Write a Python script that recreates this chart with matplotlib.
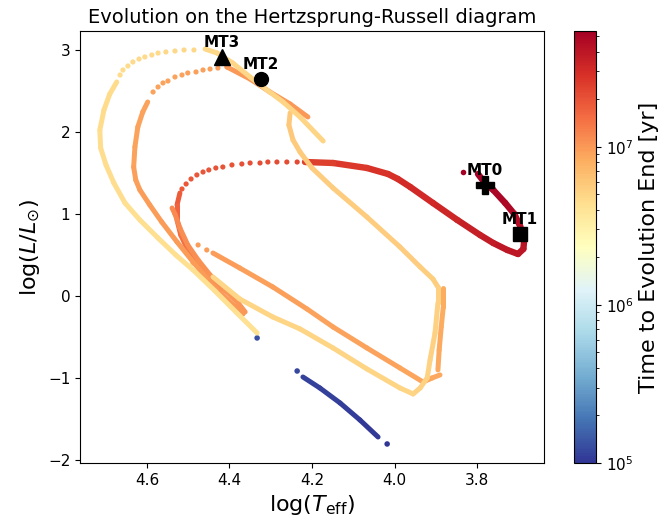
import numpy as np
import matplotlib
matplotlib.use('Agg')
import matplotlib.pyplot as plt
from matplotlib.collections import LineCollection
from matplotlib.colors import LogNorm
from matplotlib.cm import ScalarMappable

# ---- trilha: log(Teff), log(L/Lsun), tempo ate o fim [anos] ----
# inicio, ponto isolado vermelho escuro
inicio_T = [3.834]
inicio_L = [1.512]
inicio_t = [5.4e7]

# ramo vermelho (loop do MT0/MT1 e a linha longa para a esquerda)
verm_T = [3.798, 3.781, 3.761, 3.732, 3.710, 3.696, 3.686, 3.688, 3.701, 3.727,
          3.761, 3.793, 3.848, 3.907, 3.962, 3.992, 4.016, 4.067, 4.149, 4.217]
verm_L = [1.488, 1.378, 1.293, 1.134, 1.000, 0.854, 0.683, 0.573, 0.512, 0.561,
          0.646, 0.744, 0.927, 1.134, 1.329, 1.427, 1.488, 1.561, 1.622, 1.634]
verm_t = [5.3e7, 5.2e7, 5.0e7, 4.8e7, 4.6e7, 4.4e7, 4.2e7, 4.1e7, 4.0e7, 3.9e7,
          3.7e7, 3.5e7, 3.3e7, 3.1e7, 3.0e7, 2.9e7, 2.8e7, 2.6e7, 2.4e7, 2.3e7]

# arco pontilhado vermelho-laranja
arco_T = [4.236, 4.261, 4.285, 4.307, 4.326, 4.350, 4.370, 4.394, 4.416, 4.433,
          4.450, 4.464, 4.479, 4.493, 4.505, 4.515]
arco_L = [1.634, 1.634, 1.634, 1.634, 1.622, 1.622, 1.610, 1.598, 1.573, 1.561,
          1.537, 1.512, 1.476, 1.427, 1.366, 1.305]
arco_t = [2.2e7, 2.17e7, 2.15e7, 2.12e7, 2.1e7, 2.07e7, 2.05e7, 2.02e7, 2.0e7, 1.98e7,
          1.96e7, 1.94e7, 1.92e7, 1.9e7, 1.88e7, 1.86e7]

# descida vermelho-laranja
desc_T = [4.520, 4.527, 4.527, 4.518, 4.501, 4.479, 4.452, 4.423, 4.392]
desc_L = [1.256, 1.110, 0.927, 0.744, 0.561, 0.402, 0.244, 0.110, 0.012]
desc_t = [1.8e7, 1.7e7, 1.6e7, 1.5e7, 1.42e7, 1.35e7, 1.28e7, 1.2e7, 1.15e7]

# laranja paralelo a descida
lar2_T = [4.539, 4.532, 4.520, 4.501, 4.476, 4.447, 4.411, 4.379, 4.362]
lar2_L = [1.073, 1.000, 0.829, 0.622, 0.439, 0.256, 0.073, -0.085, -0.195]
lar2_t = [1.15e7, 1.15e7, 1.12e7, 1.1e7, 1.08e7, 1.06e7, 1.04e7, 1.02e7, 1.0e7]

# laranja: curva da esquerda
lesq_T = [4.598, 4.610, 4.622, 4.629, 4.632, 4.627, 4.617, 4.593, 4.564, 4.527,
          4.488, 4.447, 4.404, 4.367]
lesq_L = [2.366, 2.244, 2.061, 1.817, 1.573, 1.415, 1.293, 1.110, 0.902, 0.659,
          0.415, 0.171, -0.049, -0.220]
lesq_t = [9.0e6, 9.0e6, 9.1e6, 9.2e6, 9.3e6, 9.4e6, 9.5e6, 9.6e6, 9.7e6, 9.8e6,
          9.9e6, 1.0e7, 1.0e7, 1.0e7]

# laranja: arco pontilhado de cima
lcim_T = [4.585, 4.573, 4.561, 4.549, 4.532, 4.515, 4.501, 4.481, 4.464, 4.447, 4.428, 4.406]
lcim_L = [2.488, 2.549, 2.598, 2.622, 2.671, 2.695, 2.720, 2.732, 2.756, 2.768, 2.780, 2.793]
lcim_t = [9.0e6, 9.0e6, 9.1e6, 9.1e6, 9.2e6, 9.2e6, 9.3e6, 9.3e6, 9.4e6, 9.4e6,
          9.5e6, 9.6e6]

# laranja: linha do MT2
lmt2_T = [4.406, 4.350, 4.302, 4.253, 4.210]
lmt2_L = [2.793, 2.646, 2.488, 2.341, 2.183]
lmt2_t = [1.0e7, 1.0e7, 1.0e7, 1.0e7, 1.0e7]

# laranja: linha para a direita e subida vertical
ldir_T = [4.440, 4.375, 4.295, 4.212, 4.149, 4.067, 3.987, 3.931, 3.909, 3.890]
ldir_L = [0.524, 0.341, 0.110, -0.159, -0.378, -0.634, -0.878, -1.049, -1.000, -0.963]
ldir_t = [9.5e6, 9.4e6, 9.3e6, 9.2e6, 9.1e6, 9.0e6, 8.9e6, 8.8e6, 8.7e6, 8.6e6]
lpts_T = [4.476, 4.455]
lpts_L = [0.622, 0.561]
lpts_t = [9.5e6, 9.5e6]
lver_T = [3.895, 3.892, 3.887, 3.882, 3.882]
lver_L = [-0.902, -0.659, -0.378, -0.134, 0.098]
lver_t = [8.5e6, 8.4e6, 8.3e6, 8.2e6, 8.2e6]

# amarelo: trilha da direita (desce, vertical, volta para a esquerda)
adir_T = [4.253, 4.256, 4.246, 4.229, 4.200, 4.149, 4.067, 3.987, 3.938, 3.907,
          3.895, 3.895, 3.902, 3.914, 3.921, 3.938, 3.955, 3.987, 4.067, 4.149,
          4.229, 4.295, 4.375, 4.440]
adir_L = [2.232, 2.085, 1.902, 1.756, 1.561, 1.317, 0.963, 0.598, 0.354, 0.207,
          0.110, -0.085, -0.451, -0.780, -1.000, -1.122, -1.195, -1.122, -0.890, -0.634,
          -0.402, -0.256, -0.037, 0.232]
adir_t = [5.8e6, 5.8e6, 5.7e6, 5.7e6, 5.6e6, 5.6e6, 5.5e6, 5.5e6, 5.4e6, 5.4e6,
          5.3e6, 5.3e6, 5.3e6, 5.2e6, 5.2e6, 5.2e6, 5.1e6, 5.1e6, 5.1e6, 5.0e6,
          5.0e6, 5.0e6, 4.9e6, 4.9e6]
apts_T = [4.464, 4.488]
apts_L = [0.341, 0.402]
apts_t = [4.9e6, 4.9e6]

# amarelo: linha de cima (passa pelo MT3)
acim_T = [4.173, 4.229, 4.270, 4.309, 4.350, 4.392, 4.430, 4.459]
acim_L = [1.890, 2.183, 2.366, 2.512, 2.671, 2.841, 2.963, 3.012]
acim_t = [5.0e6, 5.0e6, 5.0e6, 4.9e6, 4.9e6, 4.9e6, 4.8e6, 4.8e6]

# amarelo: arco pontilhado de cima
apon_T = [4.486, 4.510, 4.532, 4.554, 4.573, 4.588, 4.605, 4.619, 4.634, 4.646, 4.658, 4.665]
apon_L = [3.000, 3.000, 2.988, 2.976, 2.963, 2.939, 2.915, 2.890, 2.854, 2.805, 2.756, 2.695]
apon_t = [4.8e6, 4.8e6, 4.8e6, 4.8e6, 4.7e6, 4.7e6, 4.7e6, 4.7e6, 4.7e6, 4.6e6, 4.6e6, 4.6e6]

# amarelo: curva da esquerda ate o fim
aesq_T = [4.673, 4.690, 4.704, 4.714, 4.712, 4.699, 4.680, 4.653, 4.617, 4.573,
          4.530, 4.488, 4.435, 4.382, 4.333]
aesq_L = [2.610, 2.463, 2.268, 2.024, 1.805, 1.598, 1.378, 1.134, 0.927, 0.707,
          0.500, 0.317, 0.061, -0.207, -0.451]
aesq_t = [4.6e6, 4.6e6, 4.6e6, 4.5e6, 4.5e6, 4.5e6, 4.5e6, 4.4e6, 4.4e6, 4.4e6,
          4.3e6, 4.3e6, 4.3e6, 4.2e6, 4.2e6]

# azul: fase final
azpt_T = [4.333, 4.236, 4.018]
azpt_L = [-0.512, -0.915, -1.805]
azpt_t = [1.3e5, 1.2e5, 1.0e5]
azul_T = [4.222, 4.181, 4.132, 4.084, 4.040]
azul_L = [-0.988, -1.122, -1.305, -1.512, -1.720]
azul_t = [1.15e5, 1.12e5, 1.1e5, 1.05e5, 1.02e5]

# marcadores de transferencia de massa
mt_nomes = ['MT0', 'MT1', 'MT2', 'MT3']
mt_T = [3.781, 3.696, 4.324, 4.418]
mt_L = [1.354, 0.756, 2.646, 2.915]
mt_marc = ['P', 's', 'o', '^']
mt_tam = [13, 10, 10, 11]

cmap = plt.get_cmap('RdYlBu_r')
norm = LogNorm(vmin=1e5, vmax=5.4e7)


def Linha(ax, x, y, t, lw=3.6):
    pts = np.column_stack([x, y])
    segs = np.stack([pts[:-1], pts[1:]], axis=1)
    lc = LineCollection(segs, cmap=cmap, norm=norm, linewidths=lw,
                        capstyle='round', joinstyle='round')
    lc.set_array(np.asarray(t[:-1]))
    ax.add_collection(lc)


def Pontos(ax, x, y, t, s=14):
    ax.scatter(x, y, c=t, cmap=cmap, norm=norm, s=s, linewidths=0)


fig = plt.figure(figsize=(6.64, 5.25), dpi=100)
ax = fig.add_axes([0.1205, 0.1181, 0.6988, 0.8229])
cax = fig.add_axes([0.8645, 0.1181, 0.0331, 0.8229])

# desenhado na ordem da evolucao
Pontos(ax, inicio_T, inicio_L, inicio_t, s=16)
Linha(ax, verm_T, verm_L, verm_t, lw=4.6)
Pontos(ax, arco_T, arco_L, arco_t)
Linha(ax, desc_T, desc_L, desc_t)
Linha(ax, lar2_T, lar2_L, lar2_t)
Linha(ax, lesq_T, lesq_L, lesq_t)
Pontos(ax, lcim_T, lcim_L, lcim_t)
Linha(ax, lmt2_T, lmt2_L, lmt2_t)
Pontos(ax, lpts_T, lpts_L, lpts_t)
Linha(ax, ldir_T, ldir_L, ldir_t)
Linha(ax, lver_T, lver_L, lver_t)
Linha(ax, adir_T, adir_L, adir_t)
Pontos(ax, apts_T, apts_L, apts_t, s=18)
Linha(ax, acim_T, acim_L, acim_t)
Pontos(ax, apon_T, apon_L, apon_t)
Linha(ax, aesq_T, aesq_L, aesq_t)
Pontos(ax, azpt_T, azpt_L, azpt_t, s=16)
Linha(ax, azul_T, azul_L, azul_t)

for nome, x, y, m, ms in zip(mt_nomes, mt_T, mt_L, mt_marc, mt_tam):
    ax.plot(x, y, marker=m, ms=ms, color='k', ls='none', zorder=5)
    ax.annotate(nome, (x, y), xytext=(0, 5), textcoords='offset points',
                ha='center', va='bottom', fontsize=11, fontweight='bold', zorder=6)

ax.set_xlim(4.762, 3.638)
ax.set_ylim(-2.037, 3.232)
ax.set_xticks([4.6, 4.4, 4.2, 4.0, 3.8])
ax.set_yticks([-2, -1, 0, 1, 2, 3])
ax.tick_params(labelsize=11)
ax.set_xlabel(r'$\log(T_{\mathrm{eff}})$', fontsize=16)
ax.set_ylabel(r'$\log(L/L_{\odot})$', fontsize=16)
ax.set_title('Evolution on the Hertzsprung-Russell diagram', fontsize=14)

cb = fig.colorbar(ScalarMappable(norm=norm, cmap=cmap), cax=cax)
cb.ax.tick_params(labelsize=11)
cb.set_label('Time to Evolution End [yr]', fontsize=16)

fig.savefig('out.png', dpi=100)
plt.close(fig)
